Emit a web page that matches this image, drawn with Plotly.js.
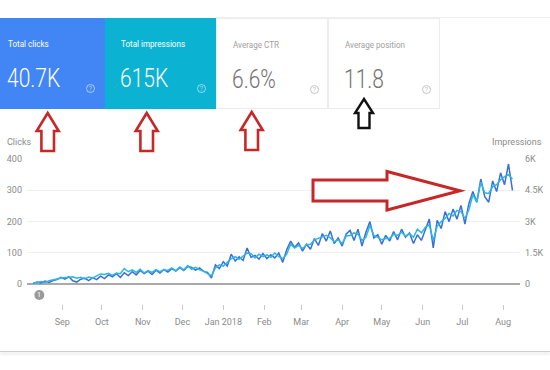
<!DOCTYPE html>
<html>
<head>
<meta charset="utf-8">
<script src="https://cdn.plot.ly/plotly-3.0.1.min.js"></script>
<style>
  html, body { margin:0; padding:0; background:#ffffff; }
  #wrap { position:relative; width:550px; height:370px; overflow:hidden; background:#fff; font-family: Roboto, "Noto Sans", sans-serif; }
  #chart { position:absolute; left:0; top:0; width:550px; height:370px; }
  .card { position:absolute; top:18px; height:91px; box-sizing:border-box; }
  .lbl { position:absolute; left:8px; top:20px; font-size:9.5px; line-height:12px; white-space:nowrap; transform:scaleX(0.85); transform-origin:left center; }
  .num { position:absolute; left:7px; top:46px; font-size:25px; font-weight:300; white-space:nowrap; transform:scaleX(0.84); transform-origin:left top; line-height:30px; }
  .q { position:absolute; top:66px; width:9px; height:9px; border-radius:50%; box-sizing:border-box; font-size:7px; line-height:8px; text-align:center; }
  #overlay { position:absolute; left:0; top:0; width:550px; height:370px; pointer-events:none; z-index:10; }
  #bottomline { position:absolute; left:0; top:351px; width:550px; height:1px; background:#cfcfcf; box-shadow:0 2px 3px rgba(0,0,0,0.18); }
</style>
</head>
<body>
<div id="wrap">
  <div id="chart"></div>
  <div id="bottomline"></div>
  <div id="cards"></div>
  <svg id="overlay" width="550" height="370" xmlns="http://www.w3.org/2000/svg">
    <g fill="#ffffff" stroke="#c62828" stroke-width="2.6" stroke-linejoin="miter">
      <path d="M47.7,113 L58.7,131 L54,131 L54,151 L41.4,151 L41.4,131 L36.7,131 Z"/>
      <path d="M146.7,113 L157.7,131 L153,131 L153,151 L140.4,151 L140.4,131 L135.7,131 Z"/>
      <path d="M251.7,112 L262.7,130 L258,130 L258,150 L245.4,150 L245.4,130 L240.7,130 Z"/>
      <path d="M313,180 L387,180 L387,171.5 L460,190.7 L387,210 L387,201 L313,201 Z" stroke-width="3"/>
    </g>
    <path d="M364,99 L373,113 L369.5,113 L369.5,128 L358.5,128 L358.5,113 L355,113 Z" fill="#ffffff" stroke="#111111" stroke-width="2.4"/>
  </svg>
</div>
<script>
// ---- Summary cards ----
const cardLabels = ["Total clicks", "Total impressions", "Average CTR", "Average position"];
const cardValues = ["40.7K", "615K", "6.6%", "11.8"];

// ---- Series sampled every 3 days, Aug 10 2017 -> Aug 8 2018 ----
const startDate = "2017-08-10";
const stepDays = 3;
const clicks = [
  3, 7, 4, 10, 6, 12, 15, 22, 16, 24,
  11, 7, 16, 20, 12, 21, 15, 26, 18, 30,
  24, 34, 22, 37, 28, 40, 30, 44, 34, 42,
  31, 45, 36, 47, 39, 50, 42, 53, 44, 57,
  54, 45, 52, 41, 38, 20, 62, 50, 72, 58,
  96, 74, 88, 76, 116, 86, 92, 80, 98, 82,
  94, 84, 100, 70, 110, 138, 118, 132, 106, 128,
  112, 146, 124, 162, 138, 170, 130, 148, 122, 160,
  172, 140, 176, 122, 166, 200, 148, 158, 128, 156,
  138, 168, 142, 176, 150, 164, 130, 158, 140, 176,
  208, 116, 204, 178, 232, 200, 240, 208, 252, 192,
  258, 296, 262, 336, 280, 262, 330, 296, 356, 318,
  384, 300
];
const impressions = [
  75, 75, 135, 90, 165, 195, 255, 300, 330, 345,
  360, 285, 330, 255, 345, 300, 405, 495, 465, 525,
  420, 540, 510, 750, 600, 690, 570, 720, 540, 660,
  570, 705, 600, 690, 660, 780, 645, 825, 690, 900,
  720, 810, 690, 630, 510, 405, 780, 930, 870, 1050,
  1230, 1320, 1200, 1350, 1500, 1470, 1260, 1440, 1320, 1410,
  1290, 1500, 1320, 1230, 1440, 1920, 1740, 1860, 1710, 1890,
  1920, 2130, 2190, 2280, 2340, 2220, 2040, 2130, 1950, 2310,
  2340, 2460, 2400, 2100, 2250, 2820, 2340, 2250, 2130, 2190,
  2190, 2400, 2340, 2490, 2310, 2430, 2250, 2640, 2460, 2730,
  2850, 2100, 2790, 3000, 3150, 3390, 3270, 3540, 3480, 3150,
  3570, 4290, 3930, 4890, 4380, 4350, 4680, 4770, 5010, 5160,
  5250, 5040
];

// ---- Axis ticks ----
const monthTickVals = ["2017-09-01","2017-10-01","2017-11-01","2017-12-01","2018-01-01","2018-02-01",
                       "2018-03-01","2018-04-01","2018-05-01","2018-06-01","2018-07-01","2018-08-01"];
const monthTickText = ["Sep","Oct","Nov","Dec","Jan 2018","Feb","Mar","Apr","May","Jun","Jul","Aug"];
const clickTicks = [0, 100, 200, 300, 400];
const imprTickVals = [0, 1500, 3000, 4500, 6000];
const imprTickText = ["0", "1.5K", "3K", "4.5K", "6K"];

// ---- Build cards ----
const cardStyles = [
  {left:0,   width:105, bg:"#4285f4", fg:"#ffffff", num:"#ffffff", border:"none", q:"rgba(255,255,255,0.55)"},
  {left:105, width:111, bg:"#0cb2d2", fg:"#ffffff", num:"#ffffff", border:"none", q:"rgba(255,255,255,0.55)"},
  {left:216, width:112, bg:"#ffffff", fg:"#9e9e9e", num:"#737373", border:"1px solid #ececec", q:"#c4c4c4"},
  {left:328, width:112, bg:"#ffffff", fg:"#9e9e9e", num:"#737373", border:"1px solid #ececec", q:"#c4c4c4"}
];
const cardsEl = document.getElementById("cards");
const topLine = document.createElement("div");
topLine.style.cssText = "position:absolute;left:216px;top:17px;width:334px;height:1px;background:#f0f0f0;";
cardsEl.appendChild(topLine);
cardLabels.forEach((t, i) => {
  const s = cardStyles[i];
  const c = document.createElement("div");
  c.className = "card";
  c.style.left = s.left + "px";
  c.style.width = s.width + "px";
  c.style.background = s.bg;
  c.style.border = s.border;
  const pad = (i === 0) ? 0 : 8;
  const l = document.createElement("div");
  l.className = "lbl"; l.textContent = t; l.style.color = s.fg; l.style.left = (8 + pad) + "px";
  const n = document.createElement("div");
  n.className = "num"; n.textContent = cardValues[i]; n.style.color = s.num; n.style.left = (7 + pad) + "px";
  const q = document.createElement("div");
  q.className = "q"; q.textContent = "?"; q.style.color = s.q; q.style.border = "1px solid " + s.q;
  q.style.left = (s.width - 19) + "px";
  c.appendChild(l); c.appendChild(n); c.appendChild(q);
  cardsEl.appendChild(c);
});

// ---- Chart ----
const L = 27, R = 520, T = 159, B = 304;
const px = v => (v - L) / (R - L);
const py = v => (B - v) / (B - T);

const traces = [
  {x0:startDate, dx:stepDays*86400000, y:impressions, type:"scatter", mode:"lines", yaxis:"y2",
   line:{color:"#2bb6e6", width:1.5}, hoverinfo:"skip"},
  {x0:startDate, dx:stepDays*86400000, y:clicks, type:"scatter", mode:"lines", yaxis:"y",
   line:{color:"#3a6fd6", width:1.5}, hoverinfo:"skip"}
];
const gfont = {family:"Roboto, sans-serif", size:9, color:"#8a8a8a"};
const layout = {
  width:550, height:370,
  margin:{l:L, r:550-R, t:T, b:370-B, pad:0},
  paper_bgcolor:"rgba(0,0,0,0)", plot_bgcolor:"rgba(0,0,0,0)",
  showlegend:false,
  xaxis:{type:"date", range:["2017-08-05 07:00","2018-08-13 17:00"], tickvals:monthTickVals, ticktext:monthTickText,
         ticks:"outside", ticklen:5, tickcolor:"#c8c8c8", tickwidth:1, showgrid:false, zeroline:false, showline:false,
         tickfont:gfont, ticklabelstandoff:4, fixedrange:true},
  yaxis:{range:[-63, 400], tickvals:clickTicks, showgrid:true, gridcolor:"#f0f0f0", gridwidth:1,
         zeroline:true, zerolinecolor:"#a9a9a9", zerolinewidth:2, showline:false, ticks:"",
         tickfont:gfont, ticklabelstandoff:4, fixedrange:true},
  yaxis2:{range:[-945, 6000], overlaying:"y", side:"right", tickvals:imprTickVals, ticktext:imprTickText,
          showgrid:false, zeroline:false, showline:false, ticks:"", tickfont:gfont, ticklabelstandoff:4, fixedrange:true},
  shapes:[
    {type:"circle", xref:"paper", yref:"paper", x0:px(34.3), x1:px(44.3), y0:py(300), y1:py(290),
     fillcolor:"#9a9a9a", line:{width:0}}
  ],
  annotations:[
    {text:"Clicks", xref:"paper", yref:"paper", x:px(5), y:py(142), xanchor:"left", yanchor:"middle", showarrow:false, font:gfont},
    {text:"Impressions", xref:"paper", yref:"paper", x:px(544), y:py(142), xanchor:"right", yanchor:"middle", showarrow:false, font:gfont},
    {text:"1", xref:"paper", yref:"paper", x:px(39.3), y:py(295), xanchor:"center", yanchor:"middle", showarrow:false,
     font:{family:"Roboto, sans-serif", size:7, color:"#ffffff"}}
  ]
};
Plotly.newPlot("chart", traces, layout, {staticPlot:true, displayModeBar:false});
</script>
</body>
</html>
